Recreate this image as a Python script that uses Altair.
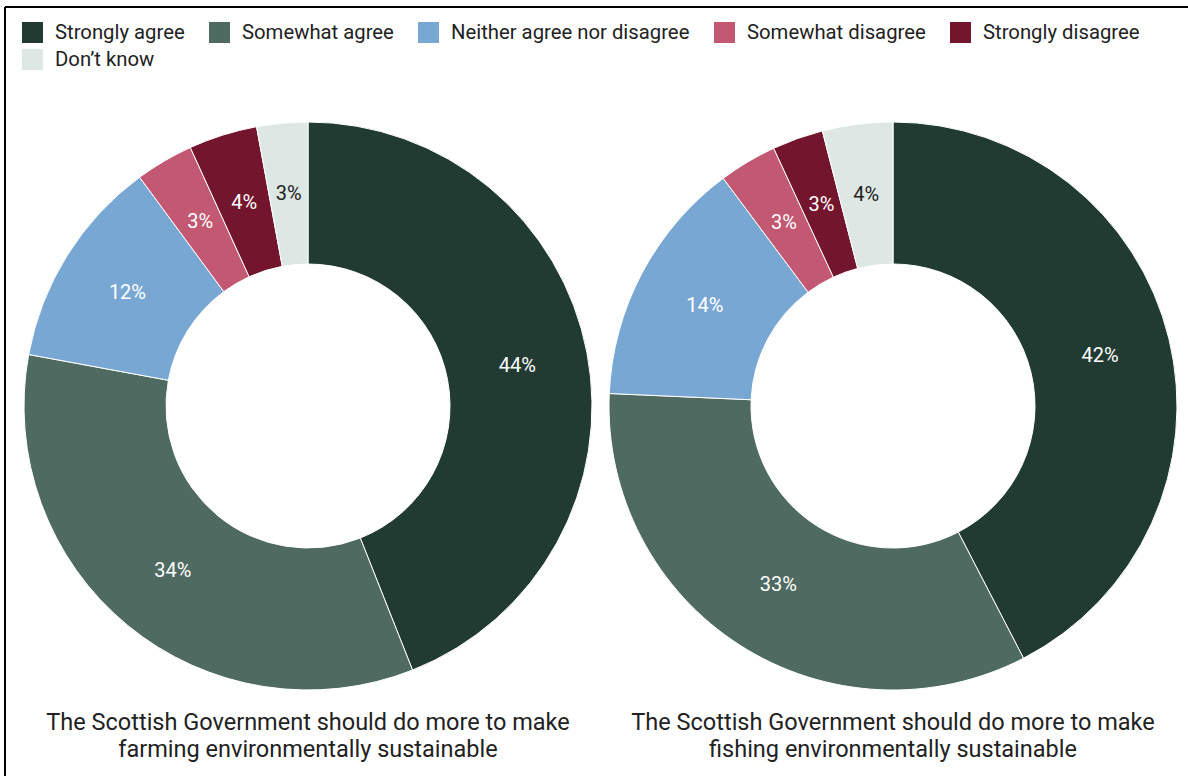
import altair as alt
import pandas as pd

categories = ["Strongly agree", "Somewhat agree", "Neither agree nor disagree",
              "Somewhat disagree", "Strongly disagree", "Don\u2019t know"]
colors = ["#213a32", "#4e6a61", "#79a7d3", "#c25872", "#74152e", "#dde7e4"]
farming = [44.0, 33.9, 12.0, 3.3, 3.9, 2.9]
fishing = [42.4, 33.3, 14.1, 3.3, 2.9, 4.0]
captions = [
    ["The Scottish Government should do more to make", "farming environmentally sustainable"],
    ["The Scottish Government should do more to make", "fishing environmentally sustainable"],
]

FONT = "Roboto"
centers = [(308, 406), (893, 406)]
R_OUT, R_IN = 284, 142


def frame(vals):
    return pd.DataFrame({
        "category": categories,
        "value": vals,
        "idx": list(range(len(categories))),
        "label": [f"{round(v)}%" for v in vals],
    })


color_enc = alt.Color(
    "category:N",
    scale=alt.Scale(domain=categories, range=colors),
    sort=categories,
    legend=alt.Legend(
        title=None, orient="none", legendX=22, legendY=22, direction="horizontal",
        columns=5, symbolType="square", symbolSize=440, symbolStrokeWidth=0,
        labelFont=FONT, labelFontSize=20.3, labelColor="#222222", labelOffset=12,
        columnPadding=24, rowPadding=6, labelLimit=400,
    ),
)

layers = []
for vals, (cx, cy), cap in zip([farming, fishing], centers, captions):
    df = frame(vals)
    base = alt.Chart(df).encode(
        theta=alt.Theta("value:Q", stack=True, scale=alt.Scale(domain=[0, 100])),
        order=alt.Order("idx:Q"),
        x=alt.value(cx), y=alt.value(cy),
    )
    arcs = base.mark_arc(innerRadius=R_IN, outerRadius=R_OUT, stroke="white", strokeWidth=1).encode(
        color=color_enc
    )
    texts = base.mark_text(radius=(R_IN + R_OUT) / 2, font=FONT, fontSize=20).encode(
        text="label:N",
        color=alt.condition(alt.datum.category == "Don\u2019t know", alt.value("#222222"), alt.value("white")),
    )
    cap_text = alt.Chart(alt.Data(values=[{}])).mark_text(
        font=FONT, fontSize=23.5, lineHeight=27, align="center", baseline="middle", color="#222222"
    ).encode(x=alt.value(cx), y=alt.value(723), text=alt.value(cap))
    layers += [arcs, texts, cap_text]

dummy = alt.Data(values=[{}])
top_rule = alt.Chart(dummy).mark_rule(color="black", strokeWidth=2).encode(
    x=alt.value(5), x2=alt.value(1188), y=alt.value(7))
left_rule = alt.Chart(dummy).mark_rule(color="black", strokeWidth=2).encode(
    x=alt.value(5), y=alt.value(7), y2=alt.value(776))

chart = alt.layer(*layers, top_rule, left_rule).properties(
    width=1188, height=776, autosize=alt.AutoSizeParams(type="none"), padding=0,
    background="white",
).configure_view(stroke=None)

chart.save("out.html", embed_options={"renderer": "svg", "actions": False})
